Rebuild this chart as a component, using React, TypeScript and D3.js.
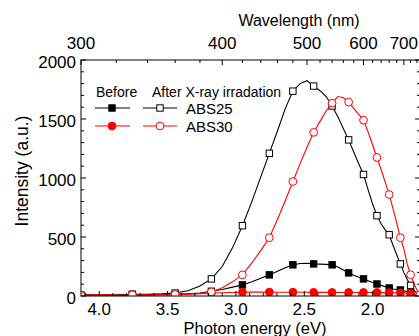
import React from "react";
import * as d3 from "d3";

// wavelengths (nm) at which the spectra were read
const wavelengths = [300,310,320,330,340,350,360,370,380,390,400,410,420,430,440,450,460,470,480,490,500,510,520,530,540,550,560,570,580,590,600,610,620,630,640,650,660,670,680,690,700,710,720,730,740,750];

const abs25Before = [5,5,5,8,8,10,12,18,25,40,55,75,94,120,150,179,210,240,264,275,278,272,270,268,264,245,220,196,175,158,145,130,115,102,90,78,68,60,55,51,45,35,25,15,8,3];
const abs30Before = [10,10,10,12,12,15,15,18,20,25,28,30,32,33,33,33,32,32,32,32,32,31,31,31,30,30,30,30,30,30,30,30,30,30,29,29,28,28,27,27,25,22,18,12,8,5];
const abs25After = [5,5,8,15,15,18,25,45,85,145,250,410,596,800,1010,1209,1400,1590,1736,1800,1825,1779,1740,1690,1610,1520,1420,1323,1220,1120,1030,900,780,681,610,560,519,430,350,272,200,140,90,50,20,5];
const abs30After = [5,5,5,10,10,10,12,15,22,34,70,120,179,280,385,494,650,810,970,1120,1260,1387,1480,1570,1634,1690,1680,1643,1590,1540,1490,1390,1280,1174,1070,965,860,740,620,494,400,270,180,110,50,10];

const markerWavelengths = [300,330,360,390,420,450,480,510,540,570,600,630,660,690,720,750];

const topMajor = [300,400,500,600,700];
const bottomMajor = [4.0,3.5,3.0,2.5,2.0];
const leftMajor = [0,500,1000,1500,2000];

const FONT = "'Liberation Sans', Arial, Helvetica, sans-serif";

export default function App() {
  const W = 419, H = 336;
  const x = d3.scaleLinear().domain([1240 / 300, 1240 / 750]).range([81, 420]);
  const y = d3.scaleLinear().domain([0, 2000]).range([296, 60]);
  const xl = (l: number) => x(1240 / l);

  const line = d3.line<number>()
    .x((_, i) => xl(wavelengths[i]))
    .y((v) => y(v));

  const series = [
    { vals: abs25Before, color: "#000", shape: "square", filled: true },
    { vals: abs30Before, color: "#ff0000", shape: "circle", filled: true },
    { vals: abs25After, color: "#000", shape: "square", filled: false },
    { vals: abs30After, color: "#ff0000", shape: "circle", filled: false },
  ];

  const marker = (cx: number, cy: number, shape: string, filled: boolean, color: string, key: string) =>
    shape === "square" ? (
      <rect key={key} x={cx - 3.2} y={cy - 3.2} width={6.4} height={6.4}
        fill={filled ? color : "#fff"} stroke={color} strokeWidth={1} />
    ) : (
      <circle key={key} cx={cx} cy={cy} r={3.9}
        fill={filled ? color : "#fff"} stroke={color} strokeWidth={1} />
    );

  const x0 = 81, x1 = 420, y0 = 296, y1 = 60;

  const topMinor = d3.range(300, 760, 20).filter((l) => !topMajor.includes(l));
  const bottomMinor = d3.range(17, 42).map((v) => v / 10).filter((v) => Math.abs(v * 2 - Math.round(v * 2)) > 1e-6);
  const leftMinor = d3.range(0, 2001, 100).filter((v) => v % 500 !== 0);

  return (
    <svg width={W} height={H} style={{ position: "absolute", left: 0, top: 0, background: "#fff" }}
      fontFamily={FONT}>
      <defs>
        <clipPath id="plot">
          <rect x={x0} y={y1} width={x1 - x0} height={y0 - y1} />
        </clipPath>
      </defs>
      <rect x={0} y={0} width={W} height={H} fill="#fff" />

      {/* data */}
      <g clipPath="url(#plot)">
        {series.map((s, si) => (
          <path key={"l" + si} d={line(s.vals) || ""} fill="none" stroke={s.color} strokeWidth={1.1} />
        ))}
        {series.map((s, si) =>
          markerWavelengths.map((l) => {
            const i = wavelengths.indexOf(l);
            return marker(xl(l), y(s.vals[i]), s.shape, s.filled, s.color, `m${si}-${l}`);
          })
        )}
      </g>

      {/* frame */}
      <rect x={x0} y={y1} width={x1 - x0} height={y0 - y1} fill="none" stroke="#000" strokeWidth={1} />

      {/* bottom axis */}
      {bottomMajor.map((v) => (
        <g key={"bM" + v}>
          <line x1={x(v)} x2={x(v)} y1={y0} y2={y0 - 5} stroke="#000" />
          <text x={x(v)} y={315} fontSize={17} textAnchor="middle">{v.toFixed(1)}</text>
        </g>
      ))}
      {bottomMinor.map((v) => (
        <line key={"bm" + v} x1={x(v)} x2={x(v)} y1={y0} y2={y0 - 3} stroke="#000" />
      ))}
      <text x={255} y={334} fontSize={16.5} textAnchor="middle">Photon energy (eV)</text>

      {/* top axis */}
      {topMajor.map((l) => (
        <g key={"tM" + l}>
          <line x1={xl(l)} x2={xl(l)} y1={y1} y2={y1 + 5} stroke="#000" />
          <text x={xl(l)} y={49} fontSize={17} textAnchor="middle">{l}</text>
        </g>
      ))}
      {topMinor.map((l) => (
        <line key={"tm" + l} x1={xl(l)} x2={xl(l)} y1={y1} y2={y1 + 3} stroke="#000" />
      ))}
      <text x={299} y={26} fontSize={16} textAnchor="middle">Wavelength (nm)</text>

      {/* left & right axes */}
      {leftMajor.map((v) => (
        <g key={"lM" + v}>
          <line x1={x0} x2={x0 + 5} y1={y(v)} y2={y(v)} stroke="#000" />
          <line x1={x1} x2={x1 - 5} y1={y(v)} y2={y(v)} stroke="#000" />
          <text x={76} y={y(v) + 8} fontSize={17} textAnchor="end">{v}</text>
        </g>
      ))}
      {leftMinor.map((v) => (
        <g key={"lm" + v}>
          <line x1={x0} x2={x0 + 3} y1={y(v)} y2={y(v)} stroke="#000" />
          <line x1={x1} x2={x1 - 3} y1={y(v)} y2={y(v)} stroke="#000" />
        </g>
      ))}
      <text transform={`translate(28,${171}) rotate(-90)`} fontSize={17.5} textAnchor="middle">Intensity (a.u.)</text>

      {/* legend */}
      <text x={96} y={97} fontSize={14}>Before</text>
      <text x={152} y={97} fontSize={14}>After X-ray irradation</text>
      {[
        { yy: 108, color: "#000", shape: "square", label: "ABS25" },
        { yy: 126, color: "#ff0000", shape: "circle", label: "ABS30" },
      ].map((r) => (
        <g key={r.label}>
          <line x1={95} x2={130} y1={r.yy} y2={r.yy} stroke={r.color} strokeWidth={1.1} />
          {marker(112, r.yy, r.shape, true, r.color, r.label + "f")}
          <line x1={143} x2={177} y1={r.yy} y2={r.yy} stroke={r.color} strokeWidth={1.1} />
          {marker(160, r.yy, r.shape, false, r.color, r.label + "o")}
          <text x={186} y={r.yy + 6} fontSize={15}>{r.label}</text>
        </g>
      ))}
    </svg>
  );
}
